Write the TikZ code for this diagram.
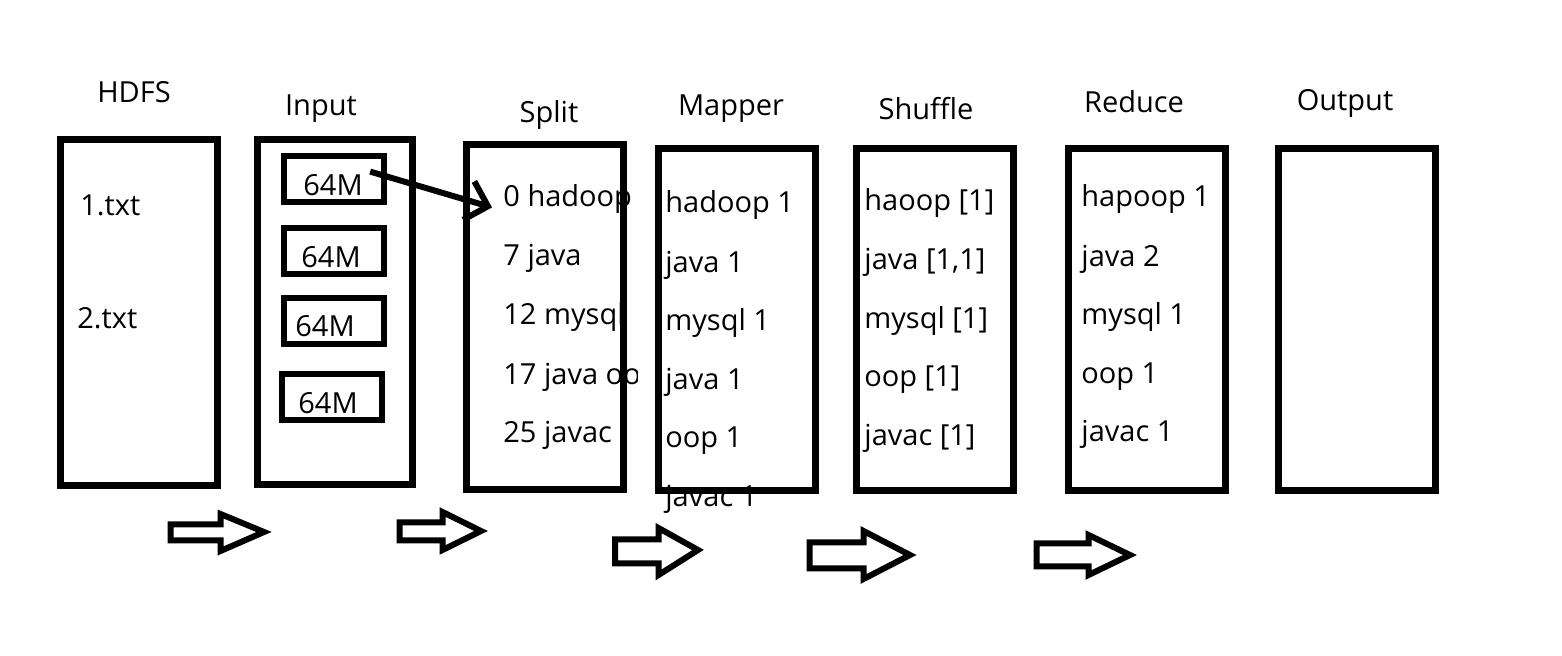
\documentclass[tikz,border=0pt]{standalone}
\usepackage{fontspec}
\setmainfont{Open Sans}
\usetikzlibrary{arrows.meta}
\begin{document}
\begin{tikzpicture}[x=0.5pt,y=-0.5pt,
  box/.style={draw, line width=3.2pt, inner sep=0pt, minimum width=78.5pt},
  blk/.style={draw, line width=3pt, inner sep=0pt, minimum width=50pt, minimum height=23pt},
  hd/.style={font=\fontsize{14.5pt}{17pt}\selectfont, anchor=base, inner sep=0pt},
  tx/.style={font=\fontsize{14.5pt}{17pt}\selectfont, anchor=base west, inner sep=0pt},
  barrow/.style={draw, line width=3pt, line join=miter},
  link/.style={line width=3pt, -{Straight Barb[length=10pt,width=20pt]}},
]
\useasboundingbox[fill=white] (0,0) rectangle (1562,656);

% headings
\node[hd] (hHDFS) at (134,103) {HDFS};
\node[hd] (hInput) at (321,116) {Input};
\node[hd] (hSplit) at (549,123) {Split};
\node[hd] (hMapper) at (731,116) {Mapper};
\node[hd] (hShuffle) at (926,120) {Shuffle};
\node[hd] (hReduce) at (1134,113) {Reduce};
\node[hd] (hOutput) at (1345,111) {Output};

% HDFS texts
\node[tx] (f1) at (80,216) {1.txt};
\node[tx] (f2) at (77,329) {2.txt};

% 64M labels
\node[tx] (t1) at (303,196) {64M};
\node[tx] (t2) at (301,268) {64M};
\node[tx] (t3) at (295,337) {64M};
\node[tx] (t4) at (298,414) {64M};

% Split texts (clipped)
\begin{scope}
\clip (466,140) rectangle (637,480);
\node[tx] (s1) at (503,207) {0 hadoop};
\node[tx] (s2) at (503,266) {7 java};
\node[tx] (s3) at (503,325) {12 mysql};
\node[tx] (s4) at (503,385) {17 java oop};
\node[tx] (s5) at (503,443) {25 javac};
\end{scope}

% Mapper texts
\node[tx] (m1) at (665,213) {hadoop 1};
\node[tx] (m2) at (665,273) {java 1};
\node[tx] (m3) at (665,331) {mysql 1};
\node[tx] (m4) at (665,390) {java 1};
\node[tx] (m5) at (665,448) {oop 1};
\node[tx] (m6) at (665,507) {javac 1};

% Shuffle texts
\node[tx] (u1) at (864,211) {haoop [1]};
\node[tx] (u2) at (864,270) {java [1,1]};
\node[tx] (u3) at (864,329) {mysql [1]};
\node[tx] (u4) at (864,387) {oop [1]};
\node[tx] (u5) at (864,446) {javac [1]};

% Reduce texts
\node[tx] (r1) at (1081,207) {hapoop 1};
\node[tx] (r2) at (1081,267) {java 2};
\node[tx] (r3) at (1081,325) {mysql 1};
\node[tx] (r4) at (1081,384) {oop 1};
\node[tx] (r5) at (1081,442) {javac 1};

% big boxes
\node[box, minimum height=173pt] (hdfs) at (139,312.5) {};
\node[box, minimum width=77.5pt, minimum height=172.5pt] (input) at (335,312) {};
\node[box, minimum height=172.5pt] (split) at (545,317) {};
\node[box, minimum height=171pt] (mapper) at (737,319.5) {};
\node[box, minimum height=171pt] (shuffle) at (935,319.5) {};
\node[box, minimum height=171pt] (reduce) at (1147,319.5) {};
\node[box, minimum height=171pt] (output) at (1357,319.5) {};

% 64M blocks
\node[blk] (b1) at (333.5,179.5) {};
\node[blk] (b2) at (333.5,251.5) {};
\node[blk] (b3) at (333.5,321.5) {};
\node[blk] (b4) at (331.5,397.5) {};

% arrow from block to split
\draw[link] ([xshift=3.5pt,yshift=1.5pt]t1.north east) -- ([xshift=-5.5pt,yshift=-4pt]s1.west);

% block arrows
\path[barrow] (170.5,524.5) -- (220.5,524.5) -- (220.5,514) -- (264,532) -- (220.5,551) -- (220.5,540.5) -- (170.5,540.5) -- cycle;
\path[barrow] (399.5,522.5) -- (442.5,522.5) -- (442.5,512) -- (481,531) -- (442.5,550) -- (442.5,540.5) -- (399.5,540.5) -- cycle;
\path[barrow] (615,539.5) -- (658.5,539.5) -- (658.5,528) -- (698,550) -- (658.5,575) -- (658.5,563.5) -- (615,563.5) -- cycle;
\path[barrow] (809.5,542.5) -- (863.5,542.5) -- (863.5,531) -- (910,555) -- (863.5,579) -- (863.5,568.5) -- (809.5,568.5) -- cycle;
\path[barrow] (1036.5,543.5) -- (1088.5,543.5) -- (1088.5,535) -- (1130,555) -- (1088.5,575) -- (1088.5,566.5) -- (1036.5,566.5) -- cycle;
\end{tikzpicture}
\end{document}
